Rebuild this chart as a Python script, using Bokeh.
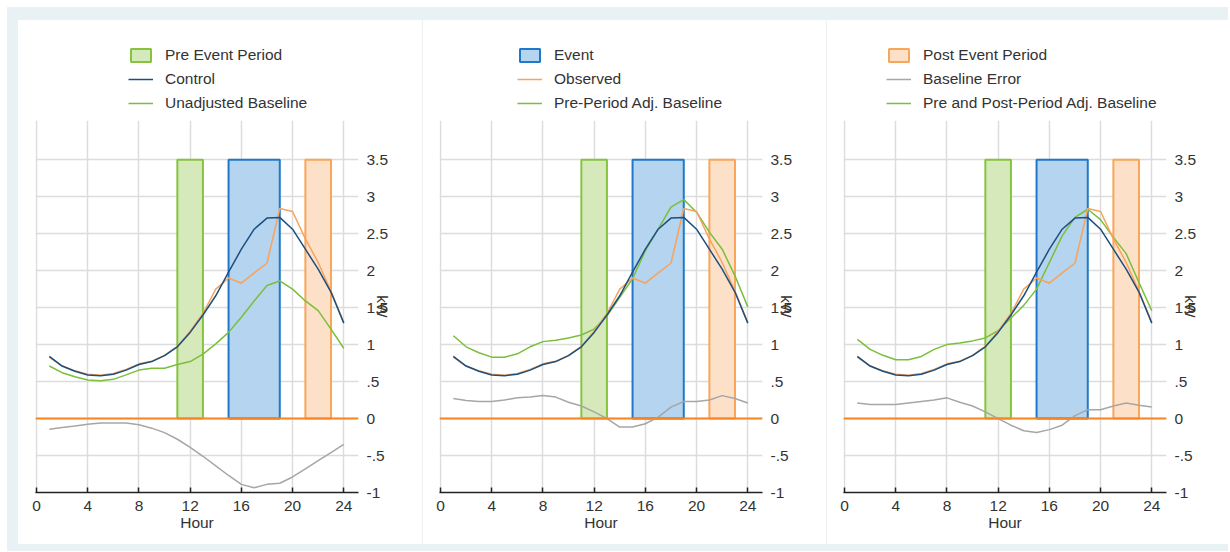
from bokeh.plotting import figure
from bokeh.models import Legend, LegendItem, FixedTicker, Spacer, Span, Range1d
from bokeh.layouts import column, row
from bokeh.embed import file_html
from bokeh.resources import INLINE

# ---------------- data ----------------
hours = list(range(1, 25))
control = [0.84, 0.71, 0.64, 0.59, 0.58, 0.60, 0.655, 0.73, 0.77, 0.85, 0.97, 1.165,
           1.40, 1.66, 1.98, 2.29, 2.56, 2.71, 2.72, 2.56, 2.29, 2.02, 1.71, 1.29]
observed = [0.83, 0.71, 0.645, 0.60, 0.585, 0.61, 0.665, 0.74, 0.775, 0.855, 0.975, 1.18,
            1.42, 1.75, 1.90, 1.83, 1.97, 2.10, 2.84, 2.80, 2.43, 2.11, 1.72, 1.30]

baseline_unadj = [0.71, 0.62, 0.565, 0.52, 0.51, 0.53, 0.59, 0.655, 0.68, 0.68, 0.73, 0.77,
                  0.87, 1.01, 1.165, 1.37, 1.59, 1.80, 1.86, 1.75, 1.59, 1.46, 1.21, 0.95]
error_unadj = [-0.145, -0.12, -0.10, -0.077, -0.06, -0.06, -0.06, -0.085, -0.13, -0.19, -0.28, -0.39,
               -0.51, -0.64, -0.77, -0.89, -0.935, -0.89, -0.875, -0.79, -0.68, -0.57, -0.46, -0.35]

baseline_pre = [1.12, 0.97, 0.89, 0.83, 0.83, 0.875, 0.97, 1.04, 1.06, 1.09, 1.13, 1.21,
                1.39, 1.64, 1.89, 2.27, 2.56, 2.86, 2.96, 2.79, 2.52, 2.29, 1.93, 1.51]
error_pre = [0.27, 0.245, 0.23, 0.23, 0.25, 0.28, 0.29, 0.31, 0.29, 0.22, 0.17, 0.09,
             0.00, -0.115, -0.115, -0.07, 0.02, 0.155, 0.23, 0.23, 0.25, 0.31, 0.27, 0.21]

baseline_prepost = [1.07, 0.935, 0.855, 0.795, 0.795, 0.84, 0.935, 1.00, 1.02, 1.05, 1.09, 1.19,
                    1.36, 1.53, 1.75, 2.11, 2.47, 2.72, 2.83, 2.69, 2.45, 2.23, 1.84, 1.46]
error_prepost = [0.21, 0.19, 0.19, 0.19, 0.21, 0.23, 0.25, 0.28, 0.22, 0.17, 0.09, 0.00,
                 -0.09, -0.165, -0.19, -0.15, -0.09, 0.04, 0.12, 0.12, 0.17, 0.21, 0.18, 0.155]

period_names = ["Pre Event Period", "Event", "Post Event Period"]
period_start = [11, 15, 21]
period_end = [13, 19, 23]
period_top = [3.5, 3.5, 3.5]

x_ticks = [0, 4, 8, 12, 16, 20, 24]
y_ticks = [-1, -0.5, 0, 0.5, 1, 1.5, 2, 2.5, 3, 3.5]
y_tick_labels = ["-1", "-.5", "0", ".5", "1", "1.5", "2", "2.5", "3", "3.5"]

# ---------------- style ----------------
BG = "#e8f1f3"
FONT = "Liberation Sans"
FS = "15.5px"
TXT = "#333333"
GRID = "#dcdcdc"
C_CONTROL = "#1b4f80"
C_OBS = "#f7a35c"
C_BASE = "#7abf3a"
C_ERR = "#a6a6a6"
C_ZERO = "#fa8520"
BAR_FILL = ["#d5e9ba", "#b4d4ef", "#fde0c8"]
BAR_LINE = ["#86c440", "#1f78c9", "#f9a65a"]

PANEL_H = 524
LEG_H = 100
PLOT_H = PANEL_H - LEG_H


def add_series(p, baseline, error, visible=True):
    rend = {}
    for i, name in enumerate(period_names):
        rend[name] = p.quad(left=[period_start[i]], right=[period_end[i]], bottom=[0],
                            top=[period_top[i]], fill_color=BAR_FILL[i],
                            line_color=BAR_LINE[i], line_width=2, visible=visible)
    rend["Baseline Error"] = p.line(hours, error, line_color=C_ERR, line_width=1.5,
                                    visible=visible)
    rend["base"] = p.line(hours, baseline, line_color=C_BASE, line_width=1.5,
                          visible=visible)
    rend["Observed"] = p.line(hours, observed, line_color=C_OBS, line_width=1.5,
                              visible=visible)
    rend["Control"] = p.line(hours, control, line_color=C_CONTROL, line_width=1.5,
                             visible=visible)
    return rend


def make_panel(width, left, baseline, error, legend_spec, legend_x):
    # ---- legend strip (renderers hidden, only the legend is shown) ----
    lf = figure(width=width, height=LEG_H, toolbar_location=None, output_backend="svg",
                x_axis_type=None, y_axis_type=None, min_border=0,
                min_border_left=0, min_border_right=0, min_border_top=0, min_border_bottom=0,
                outline_line_color=None, border_fill_color="white",
                background_fill_color="white")
    lf.grid.visible = False
    lrend = add_series(lf, baseline, error, visible=False)
    items = [LegendItem(label=lab, renderers=[lrend[key]]) for lab, key in legend_spec]
    leg = Legend(items=items, location=(legend_x, 7), orientation="vertical",
                 padding=0, margin=0, spacing=4, glyph_width=25, glyph_height=16,
                 label_height=20, label_standoff=12, border_line_color=None,
                 background_fill_alpha=0, inactive_fill_alpha=0,
                 label_text_font=FONT, label_text_font_size=FS, label_text_color=TXT)
    lf.add_layout(leg, "center")

    # ---- chart ----
    p = figure(width=width, height=PLOT_H, toolbar_location=None, output_backend="svg",
               x_range=Range1d(-0.08, 25.15), y_range=Range1d(-1, 4.03),
               y_axis_location="right", min_border_left=left,
               min_border_right=width - left - 323, min_border_top=0,
               min_border_bottom=PLOT_H - 372, outline_line_color=None,
               border_fill_color="white", background_fill_color="white")

    p.add_layout(Span(location=0, dimension="width", line_color=C_ZERO, line_width=2))
    add_series(p, baseline, error)

    # grids
    p.xgrid.ticker = FixedTicker(ticks=x_ticks)
    p.ygrid.ticker = FixedTicker(ticks=y_ticks)
    for g in (p.xgrid, p.ygrid):
        g.grid_line_color = GRID
        g.grid_line_width = 1.5

    # x axis
    xa = p.xaxis[0]
    xa.ticker = FixedTicker(ticks=x_ticks)
    xa.axis_label = "Hour"
    xa.axis_line_color = "#222222"
    xa.axis_line_width = 1.5
    xa.major_tick_line_color = "#222222"
    xa.major_tick_line_width = 1.5
    xa.major_tick_in = 5
    xa.major_tick_out = 0
    xa.minor_tick_line_color = None
    xa.major_label_standoff = 8
    xa.axis_label_standoff = 0
    xa.major_label_text_font = FONT
    xa.major_label_text_font_size = FS
    xa.major_label_text_color = TXT
    xa.axis_label_text_font = FONT
    xa.axis_label_text_font_size = FS
    xa.axis_label_text_font_style = "normal"
    xa.axis_label_text_color = TXT

    # y axis (right)
    ya = p.yaxis[0]
    ya.ticker = FixedTicker(ticks=y_ticks)
    ya.major_label_overrides = {t: s for t, s in zip(y_ticks, y_tick_labels)}
    ya.axis_label = "kW"
    ya.axis_line_color = None
    ya.major_tick_line_color = None
    ya.minor_tick_line_color = None
    ya.major_label_standoff = 2
    ya.axis_label_standoff = -17
    ya.major_label_text_font = FONT
    ya.major_label_text_font_size = FS
    ya.major_label_text_color = TXT
    ya.axis_label_text_font = FONT
    ya.axis_label_text_font_size = FS
    ya.axis_label_text_font_style = "normal"
    ya.axis_label_text_color = TXT
    return column(lf, p)


p1 = make_panel(404, 17, baseline_unadj, error_unadj,
                [("Pre Event Period", "Pre Event Period"), ("Control", "Control"),
                 ("Unadjusted Baseline", "base")], 93)
p2 = make_panel(403, 16, baseline_pre, error_pre,
                [("Event", "Event"), ("Observed", "Observed"),
                 ("Pre-Period Adj. Baseline", "base")], 78)
p3 = make_panel(401, 16, baseline_prepost, error_prepost,
                [("Post Event Period", "Post Event Period"), ("Baseline Error", "Baseline Error"),
                 ("Pre and Post-Period Adj. Baseline", "base")], 43)

SEP = "#eef1f2"
INNER_W = 11 + 404 + 1 + 403 + 1 + 401
top_bar = Spacer(width=INNER_W, height=13, styles={"background-color": BG})
bottom_bar = Spacer(width=INNER_W, height=7, styles={"background-color": BG})
left_bar = Spacer(width=11, height=PANEL_H, styles={"background-color": BG})
sep1 = Spacer(width=1, height=PANEL_H, styles={"background-color": SEP})
sep2 = Spacer(width=1, height=PANEL_H, styles={"background-color": SEP})

inner = column(top_bar, row(left_bar, p1, sep1, p2, sep2, p3), bottom_bar)
outer_top = Spacer(width=INNER_W + 7, height=7)
outer_left = Spacer(width=7, height=13 + PANEL_H + 7)
layout = column(outer_top, row(outer_left, inner))

open("out.html", "w").write(file_html(layout, INLINE))
